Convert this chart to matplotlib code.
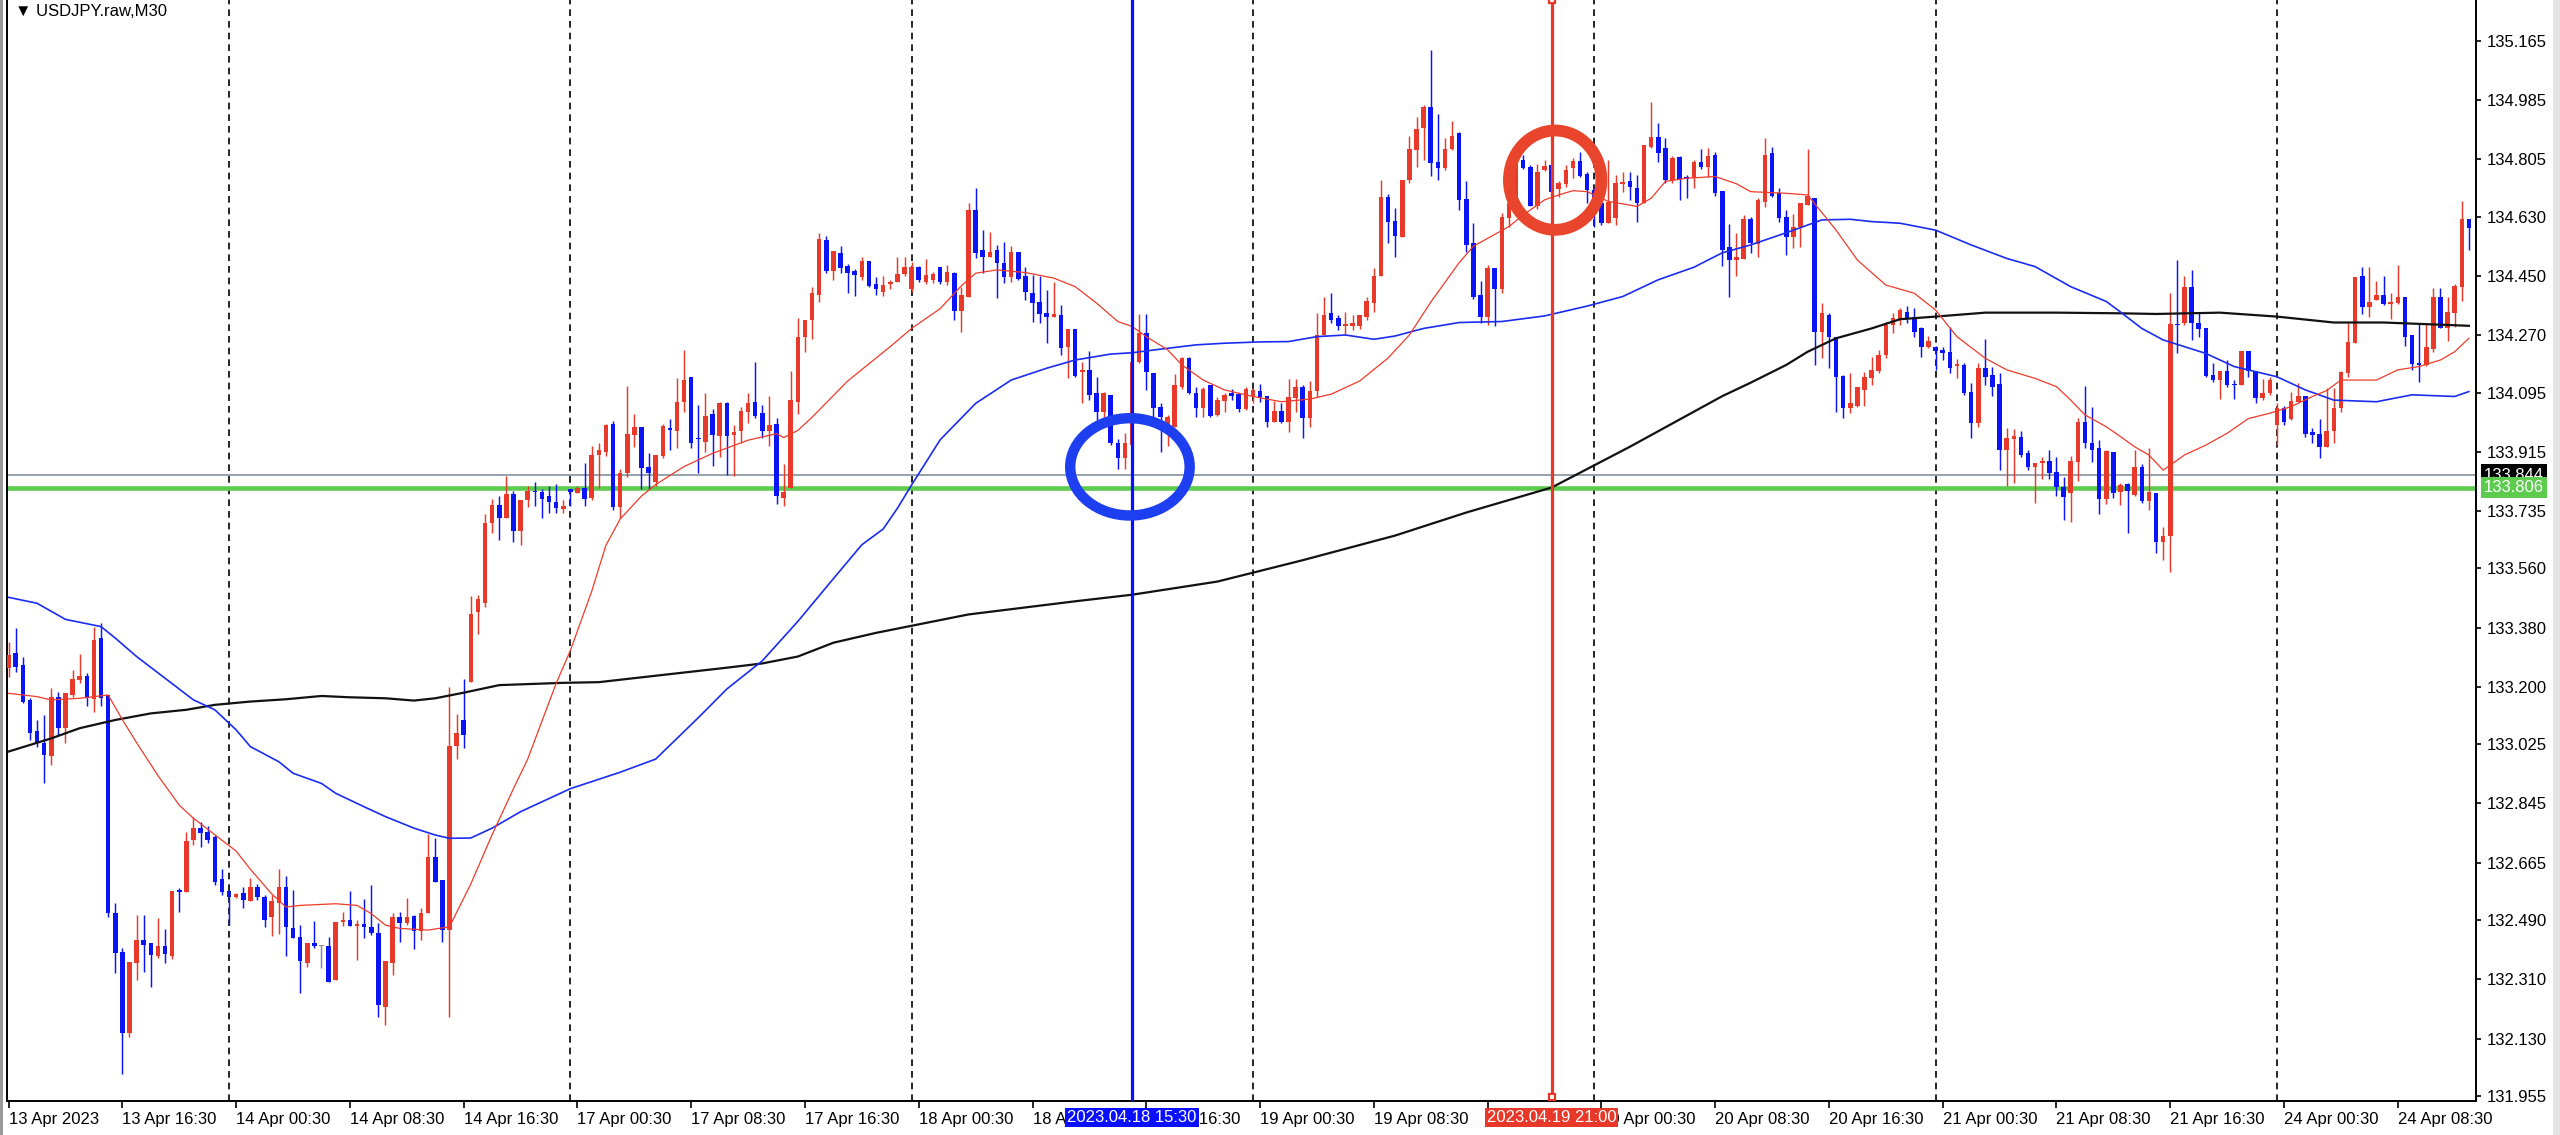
import matplotlib
matplotlib.use("Agg")
import matplotlib.pyplot as plt
from matplotlib.patches import Ellipse, Rectangle
import matplotlib.transforms as mtrans
import numpy as np

FONT = ['Liberation Sans', 'DejaVu Sans']
plt.rcParams['font.family'] = FONT
FS = 12

# ---------------- data (M30 candles, bar index 0 = 13 Apr 08:30) ----------------
opens = [133.256,133.304,133.266,133.160,133.064,133.028,132.988,133.170,133.074,133.175,
133.221,133.234,133.162,133.347,133.175,132.511,132.394,132.146,132.359,132.430,
132.420,132.381,132.411,132.381,132.582,132.577,132.734,132.770,132.757,132.742,
132.615,132.580,132.561,132.572,132.549,132.592,132.561,132.501,132.541,132.592,
132.465,132.440,132.359,132.420,132.410,132.410,132.308,132.483,132.491,132.471,
132.478,132.470,132.452,132.225,132.359,132.501,132.480,132.503,132.458,132.511,
132.683,132.612,132.460,133.019,133.100,133.214,133.426,133.456,133.698,133.752,
133.712,133.785,133.673,133.768,133.796,133.792,133.779,133.763,133.741,133.801,
133.790,133.806,133.774,133.904,133.915,133.999,133.747,133.850,133.966,133.991,
133.868,133.823,133.901,133.988,133.977,134.067,134.141,133.958,133.944,134.031,
133.964,134.064,133.966,133.977,134.035,134.067,134.034,133.977,133.999,133.774,
133.806,134.067,134.263,134.317,134.393,134.559,134.466,134.520,134.480,134.464,
134.447,134.494,134.425,134.402,134.425,134.430,134.456,134.409,134.478,134.432,
134.436,134.476,134.430,134.460,134.344,134.387,134.650,134.529,134.506,134.529,
134.490,134.446,134.521,134.450,134.399,134.369,134.338,134.326,134.331,134.235,
134.288,134.156,134.164,134.093,134.037,134.088,133.943,133.895,133.936,134.189,
134.275,134.154,134.050,133.990,133.991,134.113,134.199,134.095,134.047,134.118,
134.027,134.070,134.093,134.091,134.044,134.085,134.101,134.083,134.004,134.040,
134.004,134.078,134.111,134.017,134.100,134.270,134.336,134.321,134.296,134.296,
134.296,134.326,134.367,134.448,134.691,134.618,134.569,134.742,134.833,134.899,
134.965,134.797,134.777,134.835,134.884,134.683,134.549,134.392,134.326,134.473,
134.409,134.625,134.671,134.802,134.782,134.663,134.772,134.787,134.713,134.729,
134.777,134.800,134.760,134.711,134.671,134.610,134.625,134.729,134.737,134.716,
134.671,134.843,134.871,134.838,134.742,134.810,134.752,134.747,134.797,134.782,
134.818,134.709,134.537,134.498,134.500,134.622,134.547,134.676,134.823,134.701,
134.630,134.567,134.597,134.665,134.686,134.280,134.331,134.265,134.145,134.047,
134.054,134.103,134.138,134.159,134.209,134.300,134.316,134.341,134.326,134.290,
134.232,134.235,134.224,134.219,134.177,134.179,134.098,134.001,134.169,134.148,
134.121,133.920,133.955,133.959,133.910,133.869,133.882,133.887,133.854,133.809,
133.788,133.885,134.006,133.942,133.925,133.770,133.915,133.793,133.817,133.783,
133.867,133.766,133.790,133.641,133.659,134.303,134.305,134.417,134.308,134.290,
134.148,134.133,134.159,134.121,134.118,134.222,134.159,134.077,134.093,133.996,
134.047,134.013,134.067,134.083,133.976,133.969,133.930,133.979,134.047,134.154,
134.247,134.450,134.356,134.377,134.392,134.364,134.367,134.387,134.270,134.184,
134.179,134.227,134.387,134.290,134.338,134.415,134.622]
highs = [133.337,133.378,133.292,133.165,133.099,133.114,133.195,133.185,133.180,133.251,
133.300,133.243,133.383,133.395,133.175,132.541,132.404,132.364,132.506,132.506,
132.420,132.498,132.462,132.580,132.587,132.759,132.805,132.790,132.775,132.749,
132.647,132.580,132.572,132.592,132.617,132.600,132.567,132.567,132.645,132.624,
132.582,132.475,132.419,132.489,132.414,132.438,132.483,132.516,132.580,132.490,
132.553,132.597,132.480,132.366,132.511,132.516,132.556,132.506,132.526,132.752,
132.739,132.612,133.198,133.117,133.225,133.475,133.480,133.727,133.771,133.781,
133.841,133.796,133.768,133.812,133.823,133.803,133.812,133.817,133.768,133.803,
133.812,133.882,133.931,133.942,133.999,134.007,133.861,134.116,134.029,133.991,
133.912,133.904,133.999,134.013,134.140,134.225,134.143,134.056,134.094,134.045,
134.067,134.067,133.997,134.051,134.094,134.187,134.056,134.083,134.018,133.877,
134.160,134.322,134.317,134.415,134.581,134.572,134.527,134.540,134.485,134.472,
134.507,134.496,134.447,134.448,134.436,134.506,134.506,134.493,134.480,134.500,
134.463,134.478,134.483,134.462,134.417,134.673,134.716,134.588,134.582,134.544,
134.554,134.541,134.521,134.476,134.453,134.450,134.407,134.432,134.361,134.288,
134.288,134.189,134.222,134.141,134.098,134.088,133.953,133.971,134.192,134.334,
134.334,134.154,134.062,134.027,134.151,134.204,134.202,134.111,134.111,134.118,
134.080,134.095,134.105,134.095,134.111,134.108,134.121,134.085,134.070,134.062,
134.136,134.136,134.118,134.130,134.336,134.387,134.397,134.331,134.341,134.331,
134.331,134.387,134.473,134.742,134.699,134.656,134.742,134.876,134.932,134.970,
135.137,134.942,134.868,134.922,134.889,134.737,134.612,134.435,134.483,134.473,
134.640,134.681,134.820,134.818,134.787,134.790,134.802,134.797,134.737,134.787,
134.808,134.828,134.767,134.720,134.711,134.802,134.757,134.767,134.767,134.757,
134.848,134.980,134.916,134.868,134.813,134.813,134.757,134.802,134.835,134.838,
134.828,134.709,134.608,134.579,134.635,134.630,134.686,134.868,134.841,134.716,
134.650,134.638,134.670,134.835,134.686,134.366,134.336,134.265,134.148,134.153,
134.113,134.158,134.202,134.224,134.311,134.336,134.351,134.358,134.351,134.293,
134.267,134.237,134.234,134.295,134.196,134.184,134.123,134.184,134.257,134.174,
134.153,133.986,133.983,133.979,133.920,133.882,133.898,133.920,133.898,133.839,
133.902,134.019,134.115,134.050,133.951,133.920,133.915,133.819,133.821,133.920,
133.877,133.925,133.790,133.687,134.397,134.498,134.450,134.468,134.341,134.290,
134.186,134.159,134.194,134.133,134.222,134.222,134.159,134.136,134.143,134.064,
134.054,134.098,134.125,134.083,133.986,134.014,134.108,134.108,134.159,134.306,
134.445,134.476,134.476,134.435,134.450,134.397,134.483,134.387,134.270,134.306,
134.306,134.412,134.412,134.385,134.425,134.679,134.622]
lows = [133.231,133.246,133.150,133.038,133.018,132.907,132.962,133.049,133.028,133.170,
133.211,133.140,133.124,133.140,132.501,132.328,132.021,132.136,132.308,132.333,
132.286,132.374,132.359,132.371,132.516,132.577,132.719,132.714,132.724,132.597,
132.567,132.476,132.557,132.526,132.549,132.551,132.470,132.442,132.448,132.381,
132.435,132.267,132.349,132.405,132.344,132.303,132.308,132.471,132.471,132.369,
132.435,132.445,132.196,132.171,132.323,132.425,132.475,132.402,132.430,132.511,
132.607,132.425,132.197,132.980,133.013,133.214,133.360,133.443,133.668,133.647,
133.712,133.640,133.632,133.747,133.749,133.714,133.730,133.730,133.730,133.749,
133.788,133.749,133.768,133.806,133.901,133.738,133.714,133.839,133.929,133.803,
133.801,133.812,133.897,133.920,133.926,134.035,133.926,133.850,133.915,133.872,
133.899,133.845,133.842,133.942,134.002,134.018,133.958,133.931,133.755,133.749,
133.806,134.029,134.219,134.257,134.371,134.458,134.437,134.458,134.398,134.388,
134.437,134.415,134.393,134.389,134.409,134.430,134.448,134.402,134.430,134.425,
134.427,134.425,134.422,134.316,134.280,134.387,134.503,134.460,134.506,134.382,
134.427,134.432,134.438,134.377,134.311,134.306,134.247,134.326,134.209,134.138,
134.143,134.062,134.071,134.012,134.022,133.936,133.862,133.862,133.905,134.186,
134.103,134.022,133.915,133.931,133.991,134.105,134.091,134.022,134.020,134.022,
134.024,134.037,134.072,134.037,134.042,134.062,134.065,133.989,134.004,134.002,
133.976,134.037,133.956,133.990,134.080,134.270,134.306,134.285,134.270,134.285,
134.288,134.316,134.341,134.448,134.549,134.508,134.569,134.731,134.780,134.803,
134.754,134.740,134.772,134.833,134.650,134.521,134.379,134.306,134.301,134.296,
134.397,134.600,134.660,134.774,134.661,134.653,134.770,134.691,134.689,134.721,
134.747,134.752,134.671,134.600,134.605,134.610,134.605,134.706,134.681,134.615,
134.671,134.838,134.795,134.731,134.731,134.681,134.686,134.716,134.774,134.752,
134.693,134.480,134.387,134.448,134.500,134.518,134.508,134.658,134.691,134.615,
134.513,134.534,134.537,134.665,134.179,134.199,134.169,134.037,134.017,134.032,
134.052,134.054,134.118,134.154,134.199,134.275,134.300,134.308,134.265,134.204,
134.229,134.164,134.194,134.153,134.138,134.088,133.956,133.991,134.118,134.085,
133.859,133.811,133.819,133.900,133.859,133.760,133.831,133.831,133.781,133.707,
133.702,133.827,133.925,133.885,133.727,133.756,133.773,133.753,133.669,133.780,
133.758,133.738,133.606,133.585,133.550,134.214,134.300,134.255,134.265,134.143,
134.128,134.075,134.113,134.075,134.118,134.143,134.062,134.072,134.088,133.935,
133.996,134.011,134.065,133.961,133.941,133.895,133.930,133.941,134.037,134.143,
134.245,134.334,134.326,134.377,134.361,134.318,134.364,134.237,134.164,134.128,
134.176,134.219,134.290,134.253,134.295,134.374,134.529]
closes = [133.297,133.259,133.155,133.059,133.028,132.993,133.170,133.074,133.180,133.223,
133.234,133.165,133.342,133.165,132.511,132.389,132.146,132.364,132.430,132.414,
132.384,132.411,132.387,132.580,132.577,132.731,132.770,132.754,132.734,132.607,
132.577,132.560,132.569,132.552,132.592,132.561,132.491,132.547,132.592,132.468,
132.435,132.367,132.420,132.410,132.410,132.303,132.483,132.491,132.471,132.478,
132.468,132.452,132.232,132.366,132.501,132.480,132.499,132.458,132.511,132.683,
132.607,132.460,133.019,133.058,133.054,133.421,133.466,133.698,133.752,133.712,
133.785,133.673,133.768,133.796,133.792,133.771,133.763,133.744,133.749,133.792,
133.806,133.771,133.904,133.920,133.996,133.747,133.850,133.969,133.991,133.864,
133.850,133.904,133.994,133.981,134.067,134.132,133.942,133.953,134.024,133.966,
134.064,133.964,133.975,134.040,134.062,134.024,133.977,133.997,133.779,133.792,
134.072,134.263,134.317,134.399,134.562,134.464,134.527,134.475,134.458,134.451,
134.494,134.420,134.409,134.422,134.432,134.456,134.478,134.478,134.436,134.453,
134.456,134.430,134.462,134.344,134.392,134.650,134.519,134.506,134.521,134.488,
134.446,134.521,134.440,134.402,134.367,134.334,134.324,134.334,134.230,134.288,
134.146,134.164,134.088,134.037,134.093,133.941,133.895,133.943,134.189,134.275,
134.156,134.047,134.022,134.020,134.118,134.199,134.093,134.047,134.105,134.024,
134.072,134.088,134.085,134.044,134.105,134.103,134.080,134.004,134.040,134.004,
134.080,134.111,134.017,134.100,134.270,134.331,134.316,134.296,134.303,134.306,
134.331,134.372,134.450,134.691,134.615,134.571,134.742,134.835,134.896,134.965,
134.792,134.777,134.835,134.876,134.681,134.544,134.387,134.326,134.473,134.409,
134.628,134.671,134.800,134.777,134.663,134.767,134.784,134.706,134.731,134.772,
134.800,134.754,134.711,134.671,134.610,134.676,134.731,134.734,134.719,134.671,
134.848,134.871,134.825,134.742,134.808,134.744,134.744,134.797,134.780,134.815,
134.701,134.529,134.498,134.506,134.622,134.551,134.681,134.818,134.693,134.625,
134.567,134.597,134.670,134.693,134.280,134.336,134.265,134.143,134.047,134.062,
134.113,134.143,134.164,134.209,134.300,134.321,134.346,134.321,134.280,134.232,
134.252,134.222,134.214,134.171,134.181,134.093,134.001,134.171,134.143,134.113,
133.920,133.956,133.964,133.905,133.867,133.882,133.885,133.851,133.807,133.778,
133.888,134.006,133.940,133.920,133.770,133.918,133.788,133.814,133.796,133.869,
133.766,133.793,133.641,133.659,134.303,134.300,134.417,134.308,134.287,134.145,
134.133,134.159,134.118,134.118,134.222,134.161,134.077,134.093,134.133,134.047,
134.006,134.070,134.083,133.969,133.966,133.930,133.979,134.047,134.156,134.250,
134.445,134.356,134.369,134.392,134.364,134.369,134.385,134.265,134.182,134.179,
134.235,134.387,134.290,134.341,134.419,134.622,134.595]

# moving averages (bar index, price)
ma_fast_bar = [0,4,6,10,14,16,18,21,24,26,29,32,34,37,39,41,46,49,51,53,55,59,62,65,68,71,73,77,79,82,
               84,86,89,91,95,99,104,108,109,111,113,118,122,124,127,131,134,136,139,143,147,150,153,156,158,160,163,165,168,171,
               175,179,183,186,190,194,197,200,204,206,208,211,213,216,218,220,222,225,227,229,231,233,236,240,243,245,250,253,257,260,
               264,268,271,274,278,281,285,288,290,292,295,297,299,301,303,304,306,309,312,315,318,321,324,326,328,330,333,336,339,342,344,346]
ma_fast_val = [133.18,133.17,133.16,133.165,133.175,133.10,133.03,132.93,132.84,132.80,132.75,132.70,132.645,132.57,132.53,132.535,132.54,132.535,132.51,132.475,
               132.465,132.46,132.47,132.60,132.75,132.89,132.98,133.21,133.31,133.49,133.63,133.71,133.78,133.815,133.87,133.91,133.95,133.97,133.958,133.98,
               134.02,134.13,134.20,134.235,134.29,134.35,134.42,134.458,134.468,134.46,134.443,134.417,134.367,134.311,134.296,134.265,134.225,134.179,134.133,134.103,
               134.083,134.067,134.075,134.09,134.13,134.20,134.27,134.37,134.49,134.54,134.564,134.60,134.635,134.681,134.696,134.709,134.706,134.676,134.669,134.661,
               134.686,134.737,134.747,134.752,134.73,134.706,134.701,134.696,134.589,134.498,134.422,134.397,134.346,134.265,134.199,134.164,134.138,134.113,134.072,134.027,
               133.991,133.961,133.930,133.905,133.859,133.874,133.905,133.935,133.971,134.016,134.032,134.052,134.083,134.101,134.133,134.133,134.133,134.164,134.174,134.194,
               134.219,134.260]
ma_mid_bar = [0,4,8,13,15,18,22,26,29,32,34,38,40,44,46,50,53,57,60,62,65,68,72,79,86,91,97,101,106,111,
              116,120,123,125,127,131,136,141,146,150,155,158,162,167,171,176,180,184,188,192,195,199,204,210,216,222,227,232,237,241,
              245,250,255,259,262,266,271,276,281,285,290,295,297,300,303,309,313,319,323,327,333,338,344,346]
ma_mid_val = [133.472,133.454,133.405,133.383,133.348,133.292,133.226,133.160,133.130,133.069,133.018,132.972,132.937,132.906,132.876,132.835,132.805,132.770,132.749,132.739,
              132.74,132.77,132.82,132.89,132.94,132.98,133.106,133.193,133.279,133.399,133.529,133.632,133.68,133.743,133.814,133.951,134.062,134.133,134.169,134.194,
              134.212,134.216,134.227,134.240,134.245,134.249,134.250,134.265,134.270,134.257,134.267,134.290,134.308,134.311,134.328,134.358,134.387,134.438,134.476,134.520,
              134.544,134.581,134.620,134.622,134.615,134.610,134.589,134.544,134.503,134.478,134.417,134.372,134.34,134.29,134.255,134.214,134.174,134.143,134.103,134.072,
              134.067,134.088,134.083,134.098]
ma_slow_bar = [0,6,10,15,20,25,29,34,39,44,48,53,57,60,64,69,78,83,92,101,106,111,116,122,135,150,158,170,182,195,
               205,217,228,241,245,250,253,257,262,266,271,278,288,297,302,311,319,327,334,346]
ma_slow_val = [133.003,133.043,133.074,133.099,133.119,133.130,133.145,133.155,133.162,133.172,133.168,133.165,133.158,133.165,133.182,133.205,133.212,133.214,133.236,133.258,
               133.271,133.292,133.334,133.364,133.42,133.46,133.48,133.52,133.585,133.66,133.73,133.806,133.93,134.084,134.125,134.179,134.219,134.260,134.290,134.318,
               134.326,134.338,134.338,134.336,134.334,134.338,134.326,134.308,134.308,134.298]

price_ticks = [135.165,134.985,134.805,134.630,134.450,134.270,134.095,133.915,133.735,133.560,
               133.380,133.200,133.025,132.845,132.665,132.490,132.310,132.130,131.955]
time_tick_bars = list(range(0, 337, 16))
time_tick_labels = ['13 Apr 2023','13 Apr 16:30','14 Apr 00:30','14 Apr 08:30','14 Apr 16:30','17 Apr 00:30',
                    '17 Apr 08:30','17 Apr 16:30','18 Apr 00:30','18 Apr 08:30','18 Apr 16:30','19 Apr 00:30',
                    '19 Apr 08:30','19 Apr 16:30','20 Apr 00:30','20 Apr 08:30','20 Apr 16:30','21 Apr 00:30',
                    '21 Apr 08:30','21 Apr 16:30','24 Apr 00:30','24 Apr 08:30']
day_break_bars = [31, 79, 127, 175, 223, 271, 319]

support_level = 133.806
gray_level = 133.844
blue_marker_bar, blue_marker_label = 158, '2023.04.18 15:30'
red_marker_bar, red_marker_label = 217, '2023.04.19 21:00'
# annotation circles: (center bar, center price, half-width bars, half-height price)
blue_circle = (157.7, 133.869, 8.4, 0.148)
red_circle = (217.5, 134.741, 6.5, 0.151)

# ---------------- drawing ----------------
W, H = 2560, 1135
fig = plt.figure(figsize=(W/100, H/100), dpi=100)
ax_l, ax_r, ax_b, ax_t = 7, 2476, 1101, 0
ax = fig.add_axes([ax_l/W, (H-ax_b)/H, (ax_r-ax_l)/W, (ax_b-ax_t)/H])
ax.set_xlim(-0.225, 347.0)
ax.set_ylim(131.940, 135.289)

RED = '#e8392b'
BLUE = '#0a14f5'

o = np.array(opens); h = np.array(highs); l = np.array(lows); c = np.array(closes)
x = np.arange(len(o))
cols = np.where(c > o, RED, np.where(c < o, BLUE, '#8a8a8a'))
ax.vlines(x, l, h, colors=cols, lw=1.05, zorder=3)
body_bot = np.minimum(o, c)
body_h = np.maximum(np.abs(c - o), 0.004)
ax.bar(x, body_h, bottom=body_bot, width=0.64, color=cols, linewidth=0, zorder=3)

# moving averages
ax.plot(ma_slow_bar, ma_slow_val, color='#111111', lw=1.6, zorder=4)
ax.plot(ma_mid_bar, ma_mid_val, color='#1a2cf0', lw=1.2, zorder=4)
ax.plot(ma_fast_bar, ma_fast_val, color='#f03a2a', lw=0.9, zorder=4)

# day separators
for b in day_break_bars:
    ax.axvline(b, color='black', lw=1.2, ls=(0, (4, 3)), zorder=2)

# horizontal levels
ax.axhline(gray_level, color='#8e9aa8', lw=1.3, zorder=2)
ax.axhline(support_level, color='#5dcb4d', lw=3.3, zorder=2)

# vertical markers
ax.axvline(blue_marker_bar, color='#0a10ff', lw=2.3, zorder=5)
ax.axvline(red_marker_bar, color='#e8382a', lw=2.3, zorder=5)
ylo, yhi = ax.get_ylim()
ax.plot([red_marker_bar, red_marker_bar], [yhi, ylo + 0.012], ls='none', marker='s', ms=5,
        mfc='white', mec='#e8382a', mew=1.6, zorder=6, clip_on=False)

# circles
cx, cy, rx, ry = blue_circle
ax.add_patch(Ellipse((cx, cy), 2*rx, 2*ry, fill=False, ec='#1d3ff0', lw=7.5, zorder=6))
cx, cy, rx, ry = red_circle
ax.add_patch(Ellipse((cx, cy), 2*rx, 2*ry, fill=False, ec='#e8452c', lw=8.5, zorder=6))

# axes styling
ax.spines['top'].set_visible(False)
for s in ['left', 'right', 'bottom']:
    ax.spines[s].set_linewidth(1.4)
    ax.spines[s].set_color('black')

ax.yaxis.tick_right()
ax.set_yticks(price_ticks)
ax.set_yticklabels([f'{v:.3f}' for v in price_ticks])
ax.tick_params(axis='y', which='both', direction='out', length=3.5, width=1.2, pad=4,
               labelsize=FS, colors='black', left=False)
ax.set_xticks(time_tick_bars)
ax.set_xticklabels(time_tick_labels)
ax.tick_params(axis='x', direction='out', length=5, width=1.2, pad=3, labelsize=FS, colors='black')
for t in ax.get_xticklabels():
    t.set_ha('left')

# time marker labels below axis
tr = mtrans.blended_transform_factory(ax.transData, fig.transFigure)
yb = (H - 1117) / H
ax.text(blue_marker_bar, yb, blue_marker_label, transform=tr, ha='center', va='center',
        fontsize=FS, color='white', zorder=20, clip_on=False,
        bbox=dict(boxstyle='square,pad=0.12', fc='#0a10ff', ec='none'))
ax.text(red_marker_bar, yb, red_marker_label, transform=tr, ha='center', va='center',
        fontsize=FS, color='white', zorder=20, clip_on=False,
        bbox=dict(boxstyle='square,pad=0.12', fc='#e8382a', ec='none'))

# price labels at right
tr2 = mtrans.blended_transform_factory(ax.transAxes, ax.transData)
xr = (2484 - ax_l) / (ax_r - ax_l)
ax.text(xr, gray_level, f'{gray_level:.3f}', transform=tr2, ha='left', va='center',
        fontsize=FS, color='white', zorder=20, clip_on=False,
        bbox=dict(boxstyle='square,pad=0.2', fc='black', ec='none'))
ax.text(xr, support_level, f'{support_level:.3f}', transform=tr2, ha='left', va='center',
        fontsize=FS, color='white', zorder=21, clip_on=False,
        bbox=dict(boxstyle='square,pad=0.2', fc='#5dcb4d', ec='none'))

# title
fig.text(15/W, (H-11)/H, '\u25BC USDJPY.raw,M30', ha='left', va='center', fontsize=FS,
         family=['Liberation Sans', 'DejaVu Sans'], color='black')

# window borders
fig.patches.append(Rectangle((0, 0), 3/W, 1, transform=fig.transFigure, fc='#9a9a9a', ec='none'))
fig.patches.append(Rectangle((2553/W, 0), 7/W, 1, transform=fig.transFigure, fc='#e4e4e4', ec='none'))

fig.savefig('out.png', dpi=100)
